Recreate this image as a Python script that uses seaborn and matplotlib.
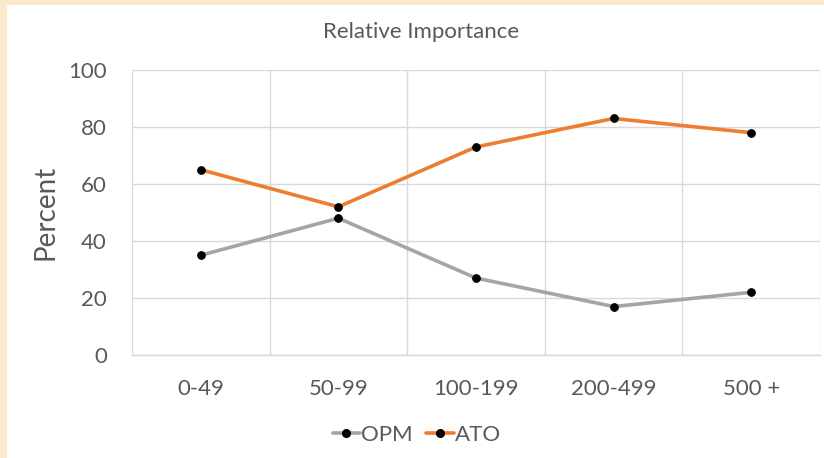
import matplotlib
matplotlib.use("Agg")
import matplotlib.pyplot as plt
from matplotlib.lines import Line2D
from matplotlib.patches import Rectangle
import numpy as np
import pandas as pd
import seaborn as sns

# Farm size classes and relative importance of each factor (percent)
size_classes = ["0-49", "50-99", "100-199", "200-499", "500 +"]
opm_values = [35, 48, 27, 17, 22]
ato_values = [65, 52, 73, 83, 78]
series_names = ["OPM", "ATO"]
series_colors = ["#a5a5a5", "#ed7d31"]
y_ticks = [0, 20, 40, 60, 80, 100]

df = pd.DataFrame({
    "size": size_classes * 2,
    "pos": list(np.arange(len(size_classes))) * 2,
    "percent": opm_values + ato_values,
    "series": ["OPM"] * len(size_classes) + ["ATO"] * len(size_classes),
})

sns.set_theme(style="white")
plt.rcParams["font.family"] = ["Lato", "DejaVu Sans"]
text_color = "#595959"
grid_color = "#d9d9d9"

fig = plt.figure(figsize=(8.24, 4.58), dpi=100)
fig.patch.set_facecolor("#fbeacb")
# white chart card sitting on the parchment background
fig.add_artist(Rectangle((7 / 824, 0), 1, 1 - 5 / 458, transform=fig.transFigure,
                         facecolor="white", edgecolor="none", zorder=-1))
ax = fig.add_axes([132 / 824, 1 - 355 / 458, (820 - 132) / 824, (355 - 70) / 458])
ax.set_facecolor("white")

palette = dict(zip(series_names, series_colors))
sns.lineplot(data=df, x="pos", y="percent", hue="series", hue_order=series_names,
             palette=palette, sort=False, linewidth=2.6, marker="o",
             markersize=5.5, markerfacecolor="black", markeredgecolor="black",
             legend=False, ax=ax, zorder=3)

ax.set_xlim(-0.5, len(size_classes) - 0.5)
ax.set_ylim(0, 100)
ax.set_xticks(np.arange(len(size_classes)))
ax.set_xticklabels(size_classes)
ax.set_xticks(np.arange(len(size_classes) + 1) - 0.5, minor=True)
ax.set_yticks(y_ticks)
ax.set_yticklabels([str(v) for v in y_ticks])

ax.grid(False)
ax.grid(True, which="minor", axis="x", color=grid_color, linewidth=1)
ax.grid(True, which="major", axis="y", color=grid_color, linewidth=1)
ax.set_axisbelow(True)
for side in ["top", "right", "left"]:
    ax.spines[side].set_visible(False)
ax.spines["bottom"].set_color(grid_color)
ax.spines["bottom"].set_linewidth(1)

ax.tick_params(axis="both", which="both", length=0, labelsize=16, labelcolor=text_color)
ax.tick_params(axis="x", pad=17)
ax.tick_params(axis="y", pad=18)

ax.set_xlabel("")
ax.set_ylabel("Percent", fontsize=20, color=text_color, labelpad=7)
fig.text(0.511, 1 - 32 / 458, "Relative Importance", ha="center", va="center",
         fontsize=16, color=text_color)

handles = [Line2D([], [], color=c, linewidth=2.6, marker="o", markersize=5.5,
                  markerfacecolor="black", markeredgecolor="black")
           for c in series_colors]
fig.legend(handles, series_names, loc="center", bbox_to_anchor=(0.506, 1 - 435 / 458),
           ncol=2, frameon=False, fontsize=16, labelcolor=text_color,
           handlelength=1.25, handletextpad=0.05, columnspacing=0.6)

fig.savefig("out.png", dpi=100, facecolor=fig.get_facecolor())
